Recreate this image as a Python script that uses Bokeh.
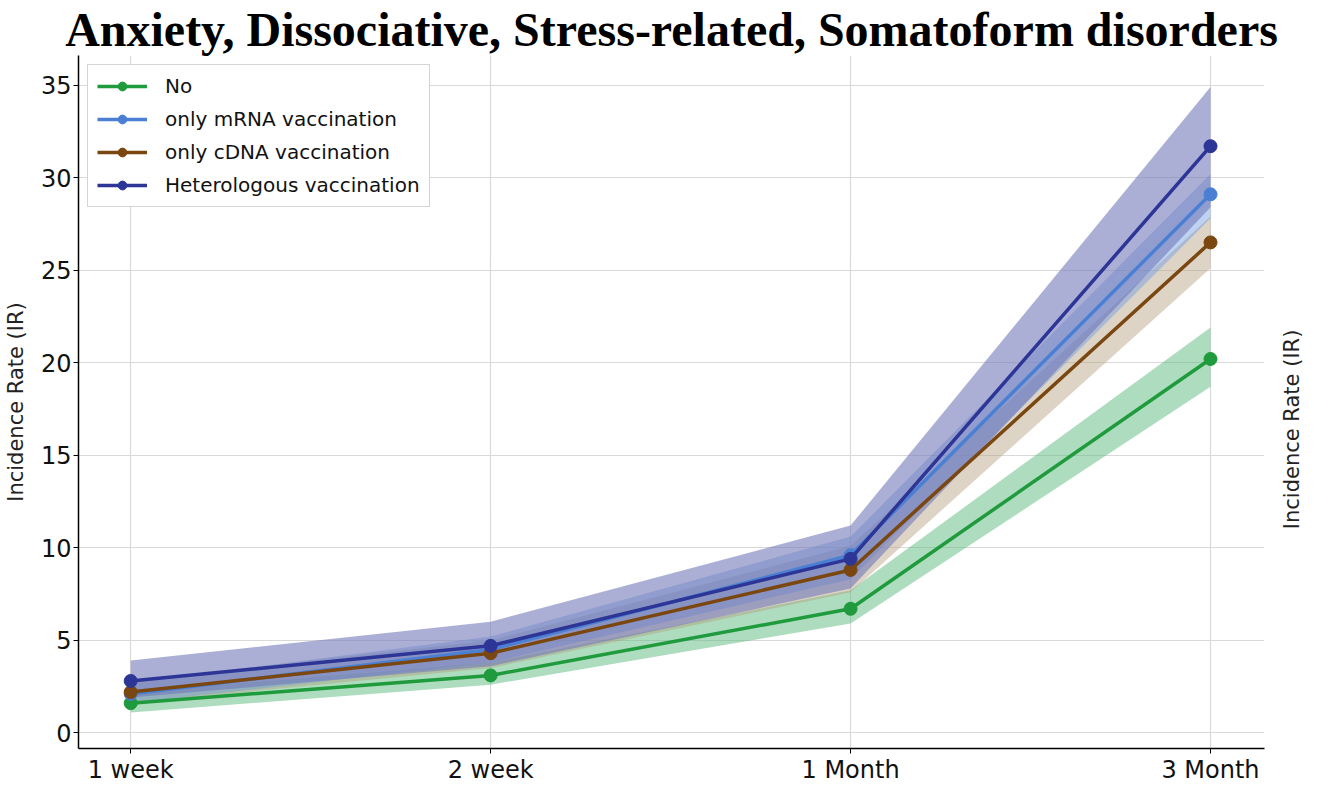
import math
from bokeh.plotting import figure
from bokeh.models import FixedTicker, LinearAxis, Range1d, Legend, LegendItem
from bokeh.embed import file_html
from bokeh.resources import INLINE

periods = ["1 week", "2 week", "1 Month", "3 Month"]

no_vals = [1.6, 3.1, 6.7, 20.2]
no_lo = [1.1, 2.6, 5.9, 18.7]
no_hi = [2.2, 3.8, 7.7, 21.9]

mrna_vals = [2.1, 4.5, 9.6, 29.1]
mrna_lo = [1.6, 3.8, 8.3, 27.8]
mrna_hi = [2.7, 5.2, 10.6, 30.2]

cdna_vals = [2.2, 4.3, 8.8, 26.5]
cdna_lo = [1.6, 3.5, 7.6, 25.1]
cdna_hi = [2.8, 5.0, 10.1, 27.9]

het_vals = [2.8, 4.7, 9.4, 31.7]
het_lo = [1.9, 3.6, 7.8, 28.4]
het_hi = [3.9, 6.0, 11.2, 34.9]

y_ticks = [0, 5, 10, 15, 20, 25, 30, 35]
axis_title = "Incidence Rate (IR)"

series = [
    ("No", no_vals, no_lo, no_hi, "#1f9a3c", "#5cba7e", 0.5),
    ("only mRNA vaccination", mrna_vals, mrna_lo, mrna_hi, "#4a7fd4", "#6e9be0", 0.45),
    ("only cDNA vaccination", cdna_vals, cdna_lo, cdna_hi, "#7a4711", "#b3a080", 0.45),
    ("Heterologous vaccination", het_vals, het_lo, het_hi, "#2d3596", "#7379b9", 0.6),
]

xs = list(range(len(periods)))

p = figure(width=1319, height=786, output_backend="svg", toolbar_location=None,
           x_range=Range1d(-0.145, 3.15), y_range=Range1d(-0.85, 36.6),
           title="Anxiety, Dissociative, Stress-related, Somatoform disorders",
           min_border_left=10, min_border_right=0, min_border_top=0, min_border_bottom=0)

p.title.text_font = "Liberation Serif"
p.title.text_font_style = "bold"
p.title.text_font_size = "48px"
p.title.align = "center"
p.title.text_color = "#000000"
p.title.standoff = 0
p.title.offset = 0

p.outline_line_color = None
p.background_fill_color = "white"

band_order = [0, 2, 1, 3]
for i in band_order:
    name, v, lo, hi, lc, bc, a = series[i]
    p.varea(x=xs, y1=lo, y2=hi, fill_color=bc, fill_alpha=a)

items = []
for name, v, lo, hi, lc, bc, a in series:
    r1 = p.line(xs, v, line_color=lc, line_width=3.5)
    r2 = p.scatter(xs, v, size=13, fill_color=lc, line_color=lc)
    items.append(LegendItem(label=name, renderers=[r1, r2]))

legend = Legend(items=items, location="top_left")
legend.label_text_font = "DejaVu Sans"
legend.label_text_font_size = "20px"
legend.label_text_color = "#111111"
legend.border_line_color = "#aaaaaa"
legend.border_line_width = 1
legend.glyph_width = 50
legend.glyph_height = 22
legend.label_height = 22
legend.spacing = 9
legend.padding = 9
legend.margin = 9
legend.label_standoff = 18
p.add_layout(legend)

p.xaxis.ticker = FixedTicker(ticks=xs)
p.xaxis.major_label_overrides = {i: lab for i, lab in enumerate(periods)}
p.yaxis.ticker = FixedTicker(ticks=y_ticks)

for ax in [p.xaxis[0], p.yaxis[0]]:
    ax.major_label_text_font = "DejaVu Sans"
    ax.major_label_text_font_size = "24px"
    ax.major_label_text_color = "#111111"
    ax.axis_line_color = "black"
    ax.axis_line_width = 1.5
    ax.major_tick_line_color = "black"
    ax.major_tick_out = 5
    ax.major_tick_in = 0
    ax.minor_tick_line_color = None
    ax.major_label_standoff = 2

p.yaxis.axis_label = axis_title
p.yaxis.axis_label_text_font = "DejaVu Sans"
p.yaxis.axis_label_text_font_size = "21px"
p.yaxis.axis_label_text_font_style = "normal"
p.yaxis.axis_label_text_color = "#222222"
p.yaxis.axis_label_standoff = 10

# right-hand duplicate axis title, reading bottom-to-top
right_anchor = 11
right_ax = LinearAxis(ticker=FixedTicker(ticks=[right_anchor]),
                      major_label_overrides={right_anchor: axis_title},
                      axis_line_color=None, major_tick_line_color=None,
                      minor_tick_line_color=None)
right_ax.major_label_orientation = math.pi / 2
right_ax.major_label_text_font = "DejaVu Sans"
right_ax.major_label_text_font_size = "21px"
right_ax.major_label_text_color = "#222222"
right_ax.major_label_standoff = 22
p.add_layout(right_ax, "right")

p.xgrid.grid_line_color = "#d9d9d9"
p.ygrid.grid_line_color = "#d9d9d9"
p.xgrid.grid_line_width = 1.2
p.ygrid.grid_line_width = 1.2

open("out.html", "w").write(file_html(p, INLINE))
